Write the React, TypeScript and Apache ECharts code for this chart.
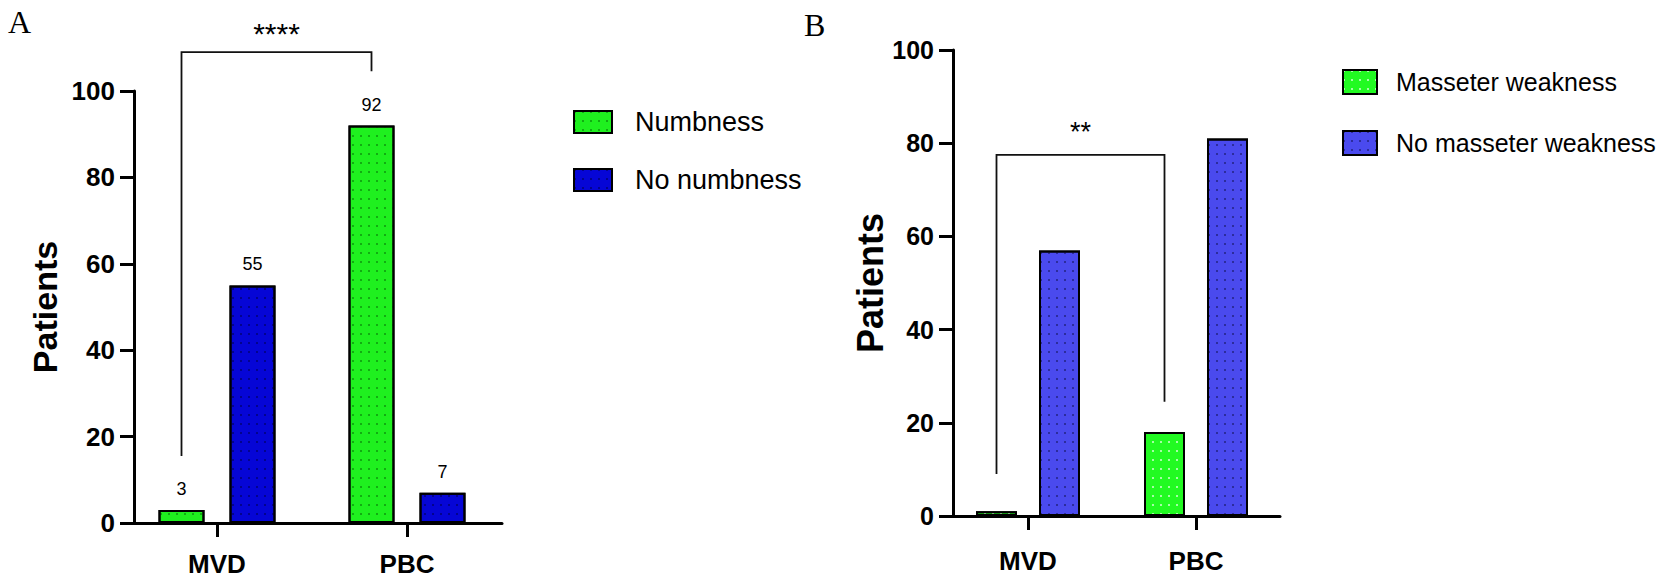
import React, { useEffect, useRef } from 'react';
import * as echarts from 'echarts';

// ---- data ----
const categories = ['MVD', 'PBC'];
const numbness = [3, 92];
const noNumbness = [55, 7];
const masseterWeakness = [1, 18];
const noMasseterWeakness = [57, 81];
// significance brackets: [left leg bottom, bracket top, right leg bottom, label level]
const bracketA = [15.5, 109, 104.6, 113.2];
const bracketB = [9, 77.5, 24.5, 82.4];
const starsA = '****';
const starsB = '**';
const panelLetters = ['A', 'B'];

const SANS = '"Liberation Sans", Arial, Helvetica, sans-serif';
const SERIF = '"Liberation Serif", "Times New Roman", serif';

const barWA = 46;
const gapA = 25;
const barWB = 41;
const gapB = 22;

function barStyle(color: string, dot: string) {
  return {
    color,
    borderColor: '#000',
    borderWidth: 2,
    decal: {
      symbol: 'rect',
      symbolSize: 1,
      color: dot,
      dashArrayX: [1.5, 5.5],
      dashArrayY: [1.5, 6.5],
    },
  };
}

function yAxisCfg(grid: number, offset: number, nameGap: number, nameSize: number, labelSize: number) {
  return {
    gridIndex: grid,
    type: 'value',
    min: 0,
    max: 100,
    interval: 20,
    offset,
    name: 'Patients',
    nameLocation: 'middle',
    nameGap,
    nameRotate: 90,
    nameTextStyle: { fontSize: nameSize, fontWeight: 'bold', fontFamily: SANS, color: '#000' },
    axisLine: { show: true, lineStyle: { color: '#000', width: 3 } },
    axisTick: { show: true, length: 14, lineStyle: { color: '#000', width: 3 } },
    axisLabel: { fontSize: labelSize, fontWeight: 'bold', fontFamily: SANS, color: '#000', margin: 19 },
    splitLine: { show: false },
  };
}

function xAxisCfg(grid: number, margin: number) {
  return {
    gridIndex: grid,
    type: 'category',
    data: categories,
    axisLine: { show: true, lineStyle: { color: '#000', width: 3 } },
    axisTick: { show: true, alignWithLabel: true, length: 14, lineStyle: { color: '#000', width: 3 } },
    axisLabel: { fontSize: 26, fontWeight: 'bold', fontFamily: SANS, color: '#000', margin },
    splitLine: { show: false },
  };
}

export default function App() {
  const ref = useRef<HTMLDivElement>(null);

  useEffect(() => {
    if (!ref.current) return;
    const chart = echarts.init(ref.current, null, { renderer: 'svg' });

    const valueLabel = {
      show: true,
      position: 'top',
      distance: 12,
      fontSize: 18,
      fontFamily: SANS,
      color: '#000',
    };

    const option: any = {
      animation: false,
      backgroundColor: '#fff',
      grid: [
        { left: 122, top: 91, width: 380, height: 432, containLabel: false },
        { left: 944, top: 50, width: 336, height: 466, containLabel: false },
      ],
      xAxis: [xAxisCfg(0, 28), xAxisCfg(1, 32)],
      yAxis: [yAxisCfg(0, -12, 72, 34, 26), yAxisCfg(1, -9, 62, 36, 25)],
      legend: [
        {
          data: ['Numbness', 'No numbness'],
          orient: 'vertical',
          left: 573,
          top: 107,
          padding: 0,
          itemWidth: 38,
          itemHeight: 22,
          itemGap: 28,
          icon: 'rect',
          selectedMode: false,
          textStyle: { fontSize: 27, fontFamily: SANS, color: '#000', lineHeight: 30, padding: [0, 0, 0, 18] },
        },
        {
          data: ['Masseter weakness', 'No masseter weakness'],
          orient: 'vertical',
          left: 1342,
          top: 67,
          padding: 0,
          itemWidth: 34,
          itemHeight: 24,
          itemGap: 31,
          icon: 'rect',
          selectedMode: false,
          textStyle: { fontSize: 25, fontFamily: SANS, color: '#000', lineHeight: 30, padding: [0, 0, 0, 14] },
        },
      ],
      series: [
        {
          name: 'Numbness',
          type: 'bar',
          xAxisIndex: 0,
          yAxisIndex: 0,
          data: numbness,
          barWidth: barWA,
          barGap: (gapA / barWA) * 100 + '%',
          itemStyle: barStyle('#1ff01f', 'rgba(0,90,0,0.45)'),
          label: valueLabel,
        },
        {
          name: 'No numbness',
          type: 'bar',
          xAxisIndex: 0,
          yAxisIndex: 0,
          data: noNumbness,
          barWidth: barWA,
          barGap: (gapA / barWA) * 100 + '%',
          itemStyle: barStyle('#0606d6', 'rgba(0,0,70,0.5)'),
          label: valueLabel,
        },
        {
          name: 'Masseter weakness',
          type: 'bar',
          xAxisIndex: 1,
          yAxisIndex: 1,
          data: masseterWeakness,
          barWidth: barWB,
          barGap: (gapB / barWB) * 100 + '%',
          itemStyle: barStyle('#22fa22', 'rgba(255,255,255,0.6)'),
        },
        {
          name: 'No masseter weakness',
          type: 'bar',
          xAxisIndex: 1,
          yAxisIndex: 1,
          data: noMasseterWeakness,
          barWidth: barWB,
          barGap: (gapB / barWB) * 100 + '%',
          itemStyle: barStyle('#4a4aee', 'rgba(20,20,90,0.55)'),
        },
      ],
    };

    chart.setOption(option);

    const bracket = (grid: number, offset: number, b: number[], stars: string) => {
      const l0 = chart.convertToPixel({ gridIndex: grid }, [0, b[0]]) as number[];
      const lt = chart.convertToPixel({ gridIndex: grid }, [0, b[1]]) as number[];
      const r0 = chart.convertToPixel({ gridIndex: grid }, [1, b[2]]) as number[];
      const s = chart.convertToPixel({ gridIndex: grid }, [0, b[3]]) as number[];
      const xl = l0[0] + offset;
      const xr = r0[0] + offset;
      return [
        {
          type: 'polyline',
          silent: true,
          shape: { points: [[xl, l0[1]], [xl, lt[1]], [xr, lt[1]], [xr, r0[1]]] },
          style: { stroke: '#111', lineWidth: 1.8, fill: null },
        },
        {
          type: 'text',
          silent: true,
          x: (xl + xr) / 2,
          y: s[1],
          style: {
            text: stars,
            fontSize: grid === 0 ? 30 : 27,
            fontFamily: SANS,
            fill: '#000',
            align: 'center',
            verticalAlign: 'middle',
          },
        },
      ];
    };

    chart.setOption({
      graphic: [
        ...bracket(0, -(barWA + gapA) / 2, bracketA, starsA),
        ...bracket(1, -(barWB + gapB) / 2, bracketB, starsB),
        {
          type: 'text',
          x: 8,
          y: 6,
          style: { text: panelLetters[0], fontSize: 32, fontFamily: SERIF, fill: '#000' },
        },
        {
          type: 'text',
          x: 804,
          y: 9,
          style: { text: panelLetters[1], fontSize: 32, fontFamily: SERIF, fill: '#000' },
        },
      ],
    });

    return () => chart.dispose();
  }, []);

  return (
    <div
      ref={ref}
      style={{ position: 'fixed', left: 0, top: 0, width: 1665, height: 583, background: '#fff' }}
    />
  );
}
